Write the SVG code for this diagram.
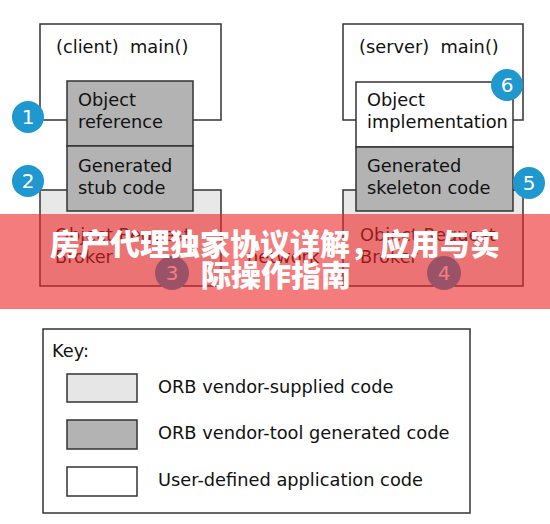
<svg xmlns="http://www.w3.org/2000/svg" width="550" height="524" viewBox="0 0 550 524">
<style>
.box{stroke:#333;stroke-width:1.5}
.main{fill:#fff}
.gen{fill:#b3b3b3}
.orb{fill:#e8e8e8}
.usr{fill:#fff}
.t{font-family:"DejaVu Sans",Verdana,sans-serif;font-size:17.8px;fill:#111;white-space:pre}
.badge{fill:#1f97cf}
.num{font-family:"DejaVu Sans",sans-serif;font-size:20px;fill:#fff;text-anchor:middle}
.title{font-family:"Noto Sans CJK SC",sans-serif;font-size:30px;font-weight:900;fill:#fff;text-anchor:middle}
</style>
<rect width="550" height="524" fill="#fff"/>
<g id="client-main"><rect class="box main" x="40" y="24" width="181" height="96"/><text class="t" x="56" y="53" xml:space="preserve">(client)  main()</text></g>
<g id="server-main"><rect class="box main" x="343" y="24" width="180" height="96"/><text class="t" x="359" y="53" xml:space="preserve">(server)  main()</text></g>
<g id="client-orb"><rect class="box orb" x="40" y="190" width="181" height="96"/><text class="t" x="55" y="241">Object Request</text><text class="t" x="55" y="263">Broker</text></g>
<g id="server-orb"><rect class="box orb" x="343" y="190" width="180" height="96"/><text class="t" x="360" y="241">Object Request</text><text class="t" x="360" y="263">Broker</text></g>
<g id="network"><text class="t" x="247" y="263">network</text></g>
<g id="object-reference"><rect class="box gen" x="67" y="81" width="126" height="65"/><text class="t" x="78" y="106">Object</text><text class="t" x="78" y="128">reference</text></g>
<g id="stub"><rect class="box gen" x="67" y="146" width="126" height="65"/><text class="t" x="78" y="172">Generated</text><text class="t" x="78" y="194">stub code</text></g>
<g id="object-implementation"><rect class="box usr" x="356" y="82" width="157" height="65"/><text class="t" x="367" y="106">Object</text><text class="t" x="367" y="128">implementation</text></g>
<g id="skeleton"><rect class="box gen" x="356" y="147" width="157" height="64"/><text class="t" x="367" y="172">Generated</text><text class="t" x="367" y="194">skeleton code</text></g>
<g id="badges">
<circle class="badge" cx="28" cy="117" r="16"/><text class="num" x="28" y="124">1</text>
<circle class="badge" cx="28" cy="181" r="16"/><text class="num" x="28" y="188">2</text>
<circle class="badge" cx="172" cy="273" r="17"/><text class="num" x="172" y="280">3</text>
<circle class="badge" cx="444" cy="273" r="17"/><text class="num" x="444" y="280">4</text>
<circle class="badge" cx="529" cy="183" r="16"/><text class="num" x="529" y="190">5</text>
<circle class="badge" cx="507" cy="85" r="16"/><text class="num" x="507" y="92">6</text>
</g>
<g id="legend">
<rect class="box" fill="#fff" x="43" y="329" width="427" height="184"/>
<text class="t" x="52" y="357">Key:</text>
<rect class="box" fill="#e6e6e6" x="67" y="374" width="70" height="28"/>
<text class="t" x="158" y="393">ORB vendor-supplied code</text>
<rect class="box gen" x="67" y="420" width="70" height="29"/>
<text class="t" x="158" y="439">ORB vendor-tool generated code</text>
<rect class="box usr" x="67" y="467" width="70" height="29"/>
<text class="t" x="158" y="486">User-defined application code</text>
</g>
<g id="banner">
<rect x="0" y="214" width="550" height="95" fill="rgb(237,37,37)" fill-opacity="0.6"/>
<text class="title" x="275" y="255">房产代理独家协议详解，应用与实</text>
<text class="title" x="276" y="286">际操作指南</text>
</g>
</svg>
